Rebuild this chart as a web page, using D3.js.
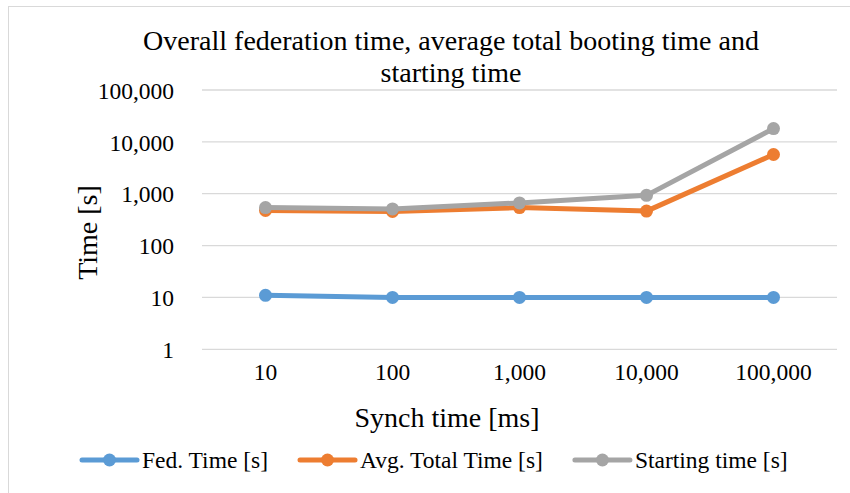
<!DOCTYPE html>
<html>
<head>
<meta charset="utf-8">
<script src="https://cdn.jsdelivr.net/npm/d3@7"></script>
<style>
  html, body { margin: 0; padding: 0; background: #fff; }
  svg { display: block; }
  text { font-family: "Liberation Serif", "Times New Roman", serif; fill: #000; }
</style>
</head>
<body>
<svg id="chart" width="850" height="493"></svg>
<script>
const categories = ["10", "100", "1,000", "10,000", "100,000"];
const fedTime = [11, 10, 10, 10, 10];
const avgTotalTime = [476, 455, 540, 462, 5700];
const startingTime = [540, 510, 665, 930, 18000];
const yTicks = [1, 10, 100, 1000, 10000, 100000];
const seriesNames = ["Fed. Time [s]", "Avg. Total Time [s]", "Starting time [s]"];
const seriesColors = ["#5B9BD5", "#ED7D31", "#A5A5A5"];
const titleLines = ["Overall federation time, average total booting time and", "starting time"];

const series = [fedTime, avgTotalTime, startingTime].map((v, i) => ({
  name: seriesNames[i], color: seriesColors[i], values: v
}));

const svg = d3.select("#chart");
const plot = { left: 202, right: 837, top: 90, bottom: 349.3 };

// chart border (extends beyond visible area on right/bottom)
svg.append("rect")
  .attr("x", 8.5).attr("y", 6.5)
  .attr("width", 900).attr("height", 520)
  .attr("fill", "none").attr("stroke", "#D9D9D9").attr("stroke-width", 1);

const x = d3.scaleBand().domain(categories).range([plot.left, plot.right]);
const y = d3.scaleLog().domain([1, 100000]).range([plot.bottom, plot.top]);

// gridlines
svg.append("g").selectAll("line").data(yTicks).join("line")
  .attr("x1", plot.left).attr("x2", plot.right)
  .attr("y1", d => y(d)).attr("y2", d => y(d))
  .attr("stroke", "#D9D9D9").attr("stroke-width", 1.3);

// y axis labels
const yAxis = d3.axisLeft(y).tickValues(yTicks).tickFormat(d3.format(",")).tickSize(0).tickPadding(0);
const gy = svg.append("g").attr("transform", `translate(${174},0)`).call(yAxis);
gy.select(".domain").remove();
gy.selectAll("text").attr("font-size", 23.5).attr("dy", "0.35em")
  .style("font-family", '"Liberation Serif", serif').attr("fill", "#000");

// x axis labels
const xAxis = d3.axisBottom(x).tickSize(0).tickPadding(0);
const gx = svg.append("g").attr("transform", `translate(0,${363})`).call(xAxis);
gx.select(".domain").remove();
gx.selectAll("text").attr("font-size", 23.5).attr("dy", "0.71em")
  .style("font-family", '"Liberation Serif", serif').attr("fill", "#000");

// lines
const line = d3.line()
  .x((d, i) => x(categories[i]) + x.bandwidth() / 2)
  .y(d => y(d));

const sg = svg.append("g").selectAll("g").data(series).join("g");
sg.append("path")
  .attr("d", d => line(d.values))
  .attr("fill", "none").attr("stroke", d => d.color)
  .attr("stroke-width", 5).attr("stroke-linejoin", "round").attr("stroke-linecap", "round");
sg.selectAll("circle").data(d => d.values.map((v, i) => ({ v, i, color: d.color }))).join("circle")
  .attr("cx", d => x(categories[d.i]) + x.bandwidth() / 2)
  .attr("cy", d => y(d.v))
  .attr("r", 6.5).attr("fill", d => d.color);

// title
const title = svg.append("text").attr("text-anchor", "middle").attr("font-size", 28);
title.selectAll("tspan").data(titleLines).join("tspan")
  .attr("x", 451).attr("y", (d, i) => 50 + i * 32).text(d => d);

// axis titles
svg.append("text").attr("text-anchor", "middle").attr("font-size", 28)
  .attr("transform", `translate(97,232.5) rotate(-90)`).text("Time [s]");
svg.append("text").attr("text-anchor", "middle").attr("font-size", 28)
  .attr("x", 447).attr("y", 427).text("Synch time [ms]");

// legend
const legY = 460;
let lx = 82;
series.forEach(s => {
  const g = svg.append("g");
  g.append("line").attr("x1", lx).attr("x2", lx + 55).attr("y1", legY).attr("y2", legY)
    .attr("stroke", s.color).attr("stroke-width", 5).attr("stroke-linecap", "round");
  g.append("circle").attr("cx", lx + 27.5).attr("cy", legY).attr("r", 6.5).attr("fill", s.color);
  const t = g.append("text").attr("x", lx + 60).attr("y", legY).attr("dy", "0.35em")
    .attr("font-size", 23.5).text(s.name);
  const w = t.node().getComputedTextLength();
  lx = lx + 60 + w + 32;
});
</script>
</body>
</html>
